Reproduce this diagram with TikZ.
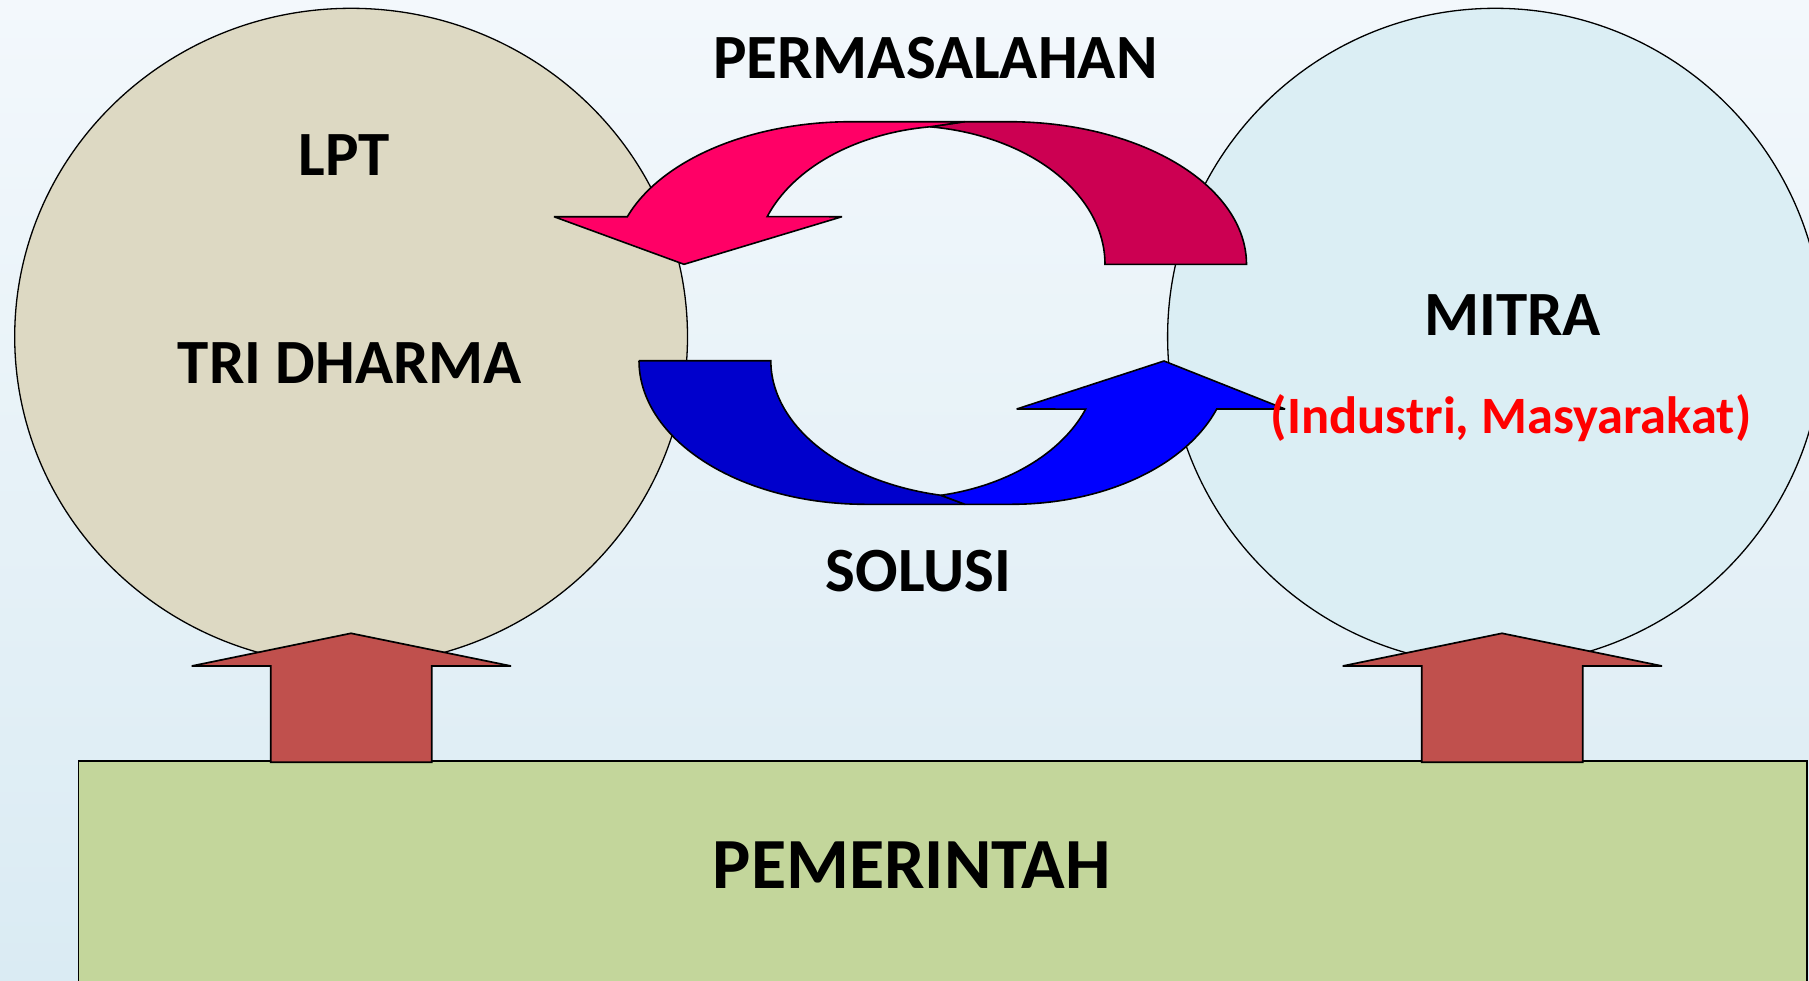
\documentclass[tikz,border=0pt]{standalone}
\usepackage{fontspec}
\setmainfont{Carlito}
\definecolor{bgtop}{HTML}{F3F8FC}
\definecolor{bgbot}{HTML}{DAEBF3}
\definecolor{beige}{HTML}{DDD9C3}
\definecolor{lblue}{HTML}{DBEEF4}
\definecolor{pemgreen}{HTML}{C3D69B}
\definecolor{uparrowcol}{HTML}{C0504D}
\definecolor{pinkA}{HTML}{FF0066}
\definecolor{pinkB}{HTML}{CC0052}
\definecolor{blueA}{HTML}{0000FF}
\definecolor{blueB}{HTML}{0000CC}
\tikzset{
  lbl/.style={font=\bfseries\fontsize{31.5}{36}\selectfont, inner sep=0pt, anchor=base},
  bigcircle/.style={draw=black, line width=0.65pt},
  uparrowshape/.style={fill=uparrowcol, draw=black, line width=0.85pt, miter limit=2},
  curvedpart/.style={draw=black, line width=0.8pt, line join=miter, miter limit=2},
}
\begin{document}
\begin{tikzpicture}[x=0.5pt,y=-0.5pt]
\useasboundingbox (0,0) rectangle (1809,980);
\shade[top color=bgtop, bottom color=bgbot] (0,0) rectangle (1809,980);

% circles
\draw[bigcircle, fill=beige] (351.1,336.7) ellipse [x radius=336.4, y radius=328.4];
\draw[bigcircle, fill=lblue] (1495.3,336.7) ellipse [x radius=327.7, y radius=328.4];

% government box
\draw[fill=pemgreen, draw=black, line width=0.7pt] (78.5,761) rectangle (1807,995);

% up arrows
\draw[uparrowshape] (270.7,762.3) -- (270.7,666) -- (191.7,666) -- (351,633.3) -- (511,666) -- (431.7,666) -- (431.7,762.3) -- cycle;
\draw[uparrowshape] (1421.7,762.3) -- (1421.7,666) -- (1342.7,666) -- (1502,633.3) -- (1662,666) -- (1582.7,666) -- (1582.7,762.3) -- cycle;

% top curved arrow (pink), back part
\draw[curvedpart, fill=pinkB] (930,126.8) -- (964.7,121.7) -- (1008.9,121.7)
  -- plot[domain=270:360, samples=50, variable=\t] ({1008.9+237.6*cos(\t)}, {264.3+142.6*sin(\t)})
  -- (1105,264.3)
  -- plot[domain=360:277.2, samples=50, variable=\t] ({905+200*cos(\t)}, {264.3+138.6*sin(\t)})
  -- cycle;
% top curved arrow (pink), front part
\draw[curvedpart, fill=pinkA] (554,216.7)
  -- plot[domain=199.5:270, samples=50, variable=\t] ({851.3+237.6*cos(\t)}, {264.3+142.6*sin(\t)})
  -- (964.7,121.7) -- (930,126.8)
  -- plot[domain=262.8:200.1, samples=50, variable=\t] ({955+200*cos(\t)}, {264.3+138.6*sin(\t)})
  -- (842,216.7) -- (684,264.3) -- cycle;

% bottom curved arrow (blue), back part
\draw[curvedpart, fill=blueB] (639,360.7) -- (770.7,360.7)
  -- plot[domain=180:101.8, samples=50, variable=\t] ({984.8+214*cos(\t)}, {360.7+137.5*sin(\t)})
  -- (965,504.3)
  -- plot[domain=90:180, samples=50, variable=\t] ({865.2+226.2*cos(\t)}, {360.7+143.6*sin(\t)})
  -- cycle;
% bottom curved arrow (blue), front part
\draw[curvedpart, fill=blueA] (941,495.3)
  -- plot[domain=78.2:20.6, samples=50, variable=\t] ({900.5+197.8*cos(\t)}, {360.7+137.5*sin(\t)})
  -- (1016.7,409) -- (1164,361) -- (1285,409)
  -- plot[domain=19.66:90, samples=50, variable=\t] ({1011.6+217.8*cos(\t)}, {360.7+143.6*sin(\t)})
  -- (965,504.3) -- cycle;

% labels
\node[lbl] (lpt) at (344,175) {LPT};
\node[lbl] (tri) at (350,383) {TRI DHARMA};
\node[lbl] (mitra) at (1512.5,335) {MITRA};
\node[lbl, font=\bfseries\fontsize{26.25}{30}\selectfont, text=red] (ind) at (1511,433.3) {(Industri, Masyarakat)};
\node[lbl] (perm) at (935.3,78.3) {PERMASALAHAN};
\node[lbl] (sol) at (918.3,591.7) {SOLUSI};
\node[lbl, font=\bfseries\fontsize{36}{42}\selectfont] (pem) at (911.7,888.3) {PEMERINTAH};
\end{tikzpicture}
\end{document}
